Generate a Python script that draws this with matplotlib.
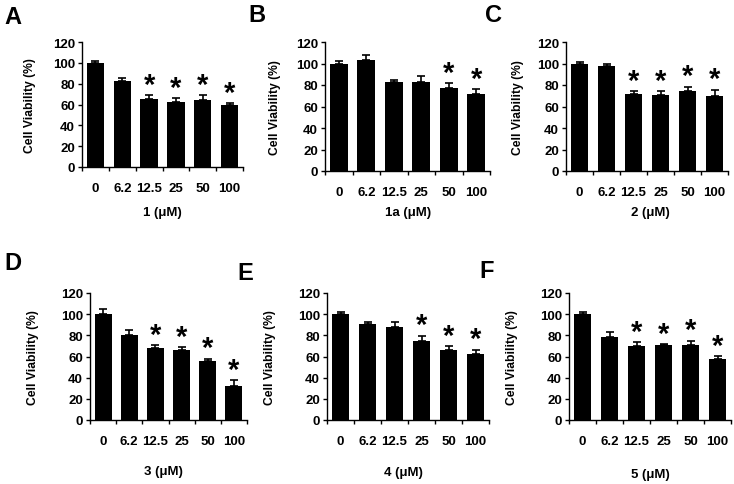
import matplotlib
matplotlib.use("Agg")
import matplotlib.pyplot as plt
import numpy as np

plt.rcParams['font.family'] = ['Liberation Sans', 'DejaVu Sans']
plt.rcParams['font.weight'] = 'bold'

W, H = 734, 485

concentrations = ["0", "6.2", "12.5", "25", "50", "100"]

vals_1 = [100, 83, 65, 62, 64, 60]
err_1 = [2, 2, 4, 4, 5, 1.5]
sig_1 = [2, 3, 4, 5]

vals_1a = [100, 103, 83, 83, 77, 72]
err_1a = [2, 5, 1.5, 5.5, 4.5, 4.3]
sig_1a = [4, 5]

vals_2 = [100, 98, 71.5, 70.5, 74, 70]
err_2 = [1.8, 1.5, 2.5, 3.5, 4.6, 5.8]
sig_2 = [2, 3, 4, 5]

vals_3 = [100, 80, 68.5, 66, 56, 32.5]
err_3 = [5, 5.3, 2.5, 2.8, 1.9, 5]
sig_3 = [2, 3, 4, 5]

vals_4 = [100, 91, 87.5, 75, 66.5, 62.5]
err_4 = [2.2, 1.6, 4.7, 4.7, 3, 4]
sig_4 = [3, 4, 5]

vals_5 = [100, 78, 69.5, 70.5, 70.5, 57.5]
err_5 = [1.6, 4.7, 3.8, 1, 4.4, 2.8]
sig_5 = [2, 3, 4, 5]

panel_letters = ["A", "B", "C", "D", "E", "F"]
xlabels = ["1 (\u03bcM)", "1a (\u03bcM)", "2 (\u03bcM)", "3 (\u03bcM)", "4 (\u03bcM)", "5 (\u03bcM)"]
ylabel = "Cell Viability (%)"
yticks = [0, 20, 40, 60, 80, 100, 120]

panels = [
    (vals_1, err_1, sig_1),
    (vals_1a, err_1a, sig_1a),
    (vals_2, err_2, sig_2),
    (vals_3, err_3, sig_3),
    (vals_4, err_4, sig_4),
    (vals_5, err_5, sig_5),
]

# pixel layout: (left, right, zero_y, top_y)
boxes = [
    (82, 243, 168, 43),
    (325, 490, 172, 43),
    (566, 728, 172, 43),
    (90, 247, 421, 294),
    (327, 489, 421, 294),
    (569, 731, 421, 294),
]
letter_pos = [(13, 17), (257, 15), (494, 15), (13, 264), (245, 273), (487, 272)]
xlabel_pos = [(162, 213), (408, 213), (650, 213), (163, 472), (403, 473), (650, 475)]
ylabel_x = [30, 275, 518, 33, 270, 512]

fig = plt.figure(figsize=(W / 100, H / 100), dpi=100)
fig.patch.set_facecolor('white')

def fx(px):
    return px / W

def fy(py):
    return 1 - py / H

for i, ((vals, errs, sig), (l, r, zb, tp)) in enumerate(zip(panels, boxes)):
    ax = fig.add_axes([fx(l), fy(zb), fx(r) - fx(l), fy(tp) - fy(zb)])
    x = np.arange(len(concentrations))
    ax.bar(x, vals, width=0.65, color='black', zorder=2)
    ax.errorbar(x, vals, yerr=[np.zeros(len(errs)), errs], fmt='none',
                ecolor='black', elinewidth=1.2, capsize=3, capthick=1.2, zorder=3)
    for j in sig:
        ax.text(x[j], vals[j] + errs[j] - 3.5, "*", ha='center', va='bottom',
                fontsize=21, fontweight='bold')
    ax.set_xlim(-0.5, len(concentrations) - 0.5)
    ax.set_ylim(0, 120)
    ax.set_yticks(yticks)
    ax.set_yticklabels([str(t) for t in yticks], fontsize=9.5, fontweight='bold')
    ax.set_xticks(np.arange(-0.5, len(concentrations)), labels=[])
    ax.set_xticks(x, minor=True)
    ax.set_xticklabels(concentrations, minor=True, fontsize=9.5, fontweight='bold')
    ax.tick_params(axis='x', which='major', length=3, width=1, direction='out')
    ax.tick_params(axis='x', which='minor', length=0, pad=11)
    ax.tick_params(axis='y', length=3, width=1, direction='out', pad=2)
    for s in ['top', 'right']:
        ax.spines[s].set_visible(False)
    for s in ['left', 'bottom']:
        ax.spines[s].set_linewidth(1)
    ax.patch.set_alpha(0)

    fig.text(fx(ylabel_x[i]), fy((zb + tp) / 2), ylabel, rotation=90,
             ha='center', va='center', fontsize=8.7, fontweight='bold')
    fig.text(fx(xlabel_pos[i][0]), fy(xlabel_pos[i][1]), xlabels[i],
             ha='center', va='center', fontsize=9.5, fontweight='bold')
    fig.text(fx(letter_pos[i][0]), fy(letter_pos[i][1]), panel_letters[i],
             ha='center', va='center', fontsize=17, fontweight='bold')

fig.savefig("out.png", dpi=100, facecolor='white')
